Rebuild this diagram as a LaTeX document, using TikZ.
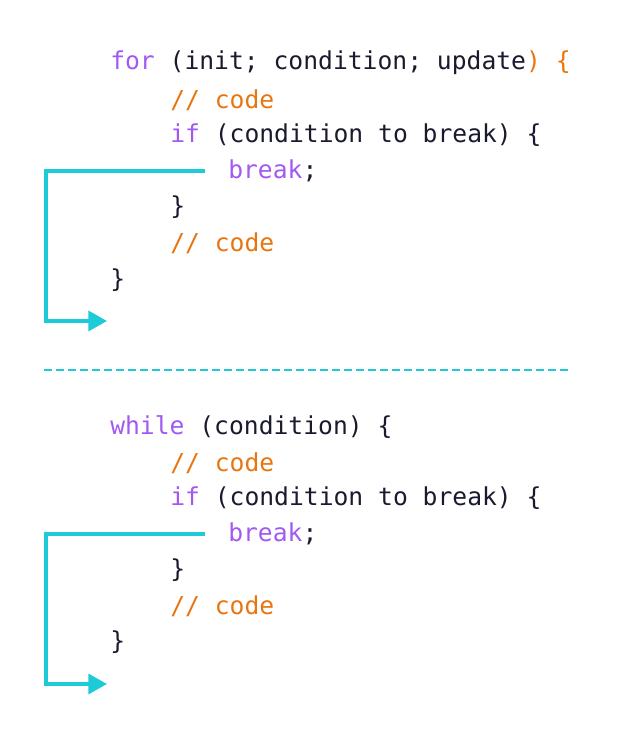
\documentclass[tikz,border=0pt]{standalone}
\usepackage{fontspec}
\setmonofont{DejaVu Sans Mono}
\usetikzlibrary{arrows.meta}
\definecolor{kw}{HTML}{A259F2}
\definecolor{cm}{HTML}{E8750F}
\definecolor{tx}{HTML}{1A1A2E}
\definecolor{ar}{HTML}{1CCAD8}
\tikzset{code/.style={anchor=west,inner sep=0pt,font=\ttfamily\fontsize{18.5pt}{20pt}\selectfont,text=tx},
 jump/.style={draw=ar,line width=2.6pt,-{Triangle[length=14pt,width=15pt]}}}
\begin{document}
\begin{tikzpicture}[x=0.75pt,y=-0.75pt]
\useasboundingbox (0,0) rectangle (620,742);
\node[code] (f1) at (110,63) {\textcolor{kw}{for} (init; condition; update\textcolor{cm}{) \{}};
\node[code] (f2) at (170,100) {\textcolor{cm}{// code}};
\node[code] (f3) at (170,135) {\textcolor{kw}{if} (condition to break) \{};
\node[code] (f4) at (228,171) {\textcolor{kw}{break};};
\node[code] (f5) at (170,207) {\}};
\node[code] (f6) at (170,243) {\textcolor{cm}{// code}};
\node[code] (f7) at (110,280) {\}};
\coordinate (a1) at (205,171);
\coordinate (b1) at (107,321);
\draw[jump] (a1) -- (46,171) |- (b1);
\coordinate (d1) at (44,370);
\coordinate (d2) at (570,370);
\draw[ar,line width=2.2pt,dash pattern=on 6pt off 3pt] (d1) -- (d2);
\node[code] (w1) at (110,427) {\textcolor{kw}{while} (condition) \{};
\node[code] (w2) at (170,463) {\textcolor{cm}{// code}};
\node[code] (w3) at (170,498) {\textcolor{kw}{if} (condition to break) \{};
\node[code] (w4) at (228,534) {\textcolor{kw}{break};};
\node[code] (w5) at (170,570) {\}};
\node[code] (w6) at (170,606) {\textcolor{cm}{// code}};
\node[code] (w7) at (110,642) {\}};
\coordinate (a2) at (205,534);
\coordinate (b2) at (107,684);
\draw[jump] (a2) -- (46,534) |- (b2);
\end{tikzpicture}
\end{document}
